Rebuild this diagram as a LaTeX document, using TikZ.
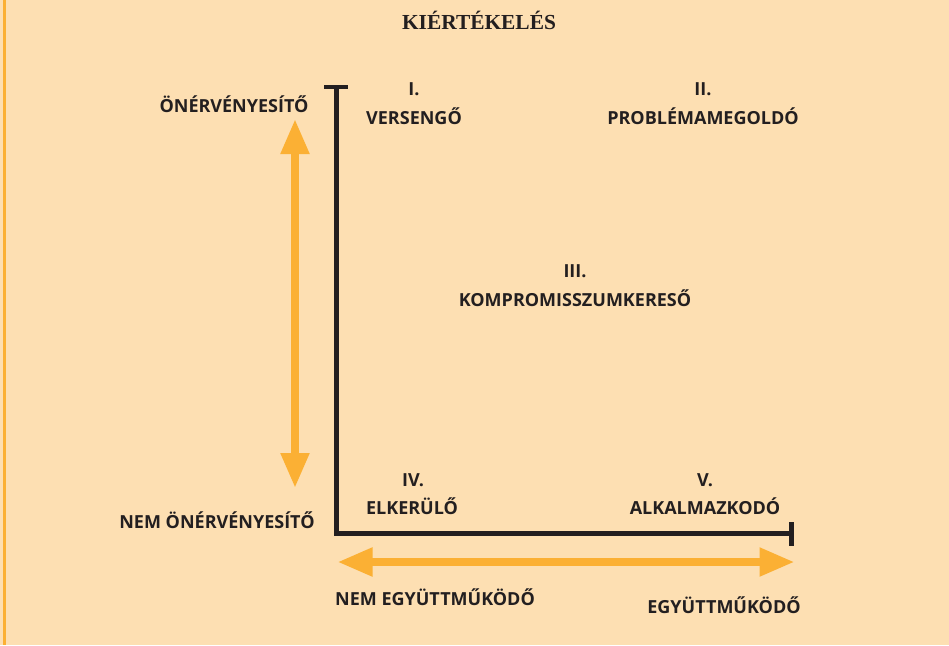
\documentclass[tikz,border=0pt]{standalone}
\usepackage{fontspec}
\setmainfont{Liberation Serif}
\newfontfamily\lblfont{Open Sans}
\usetikzlibrary{arrows.meta}
\definecolor{bg}{RGB}{253,223,178}
\definecolor{org}{RGB}{251,176,52}
\definecolor{ink}{RGB}{35,31,32}
\tikzset{
  lbl/.style={font=\lblfont\bfseries\fontsize{18}{20}\selectfont, text=ink, inner sep=0pt, anchor=center},
  ttl/.style={font=\bfseries\fontsize{21.4}{23}\selectfont, text=ink, inner sep=0pt},
  axis/.style={draw=ink, line width=5pt},
  oarrow/.style={draw=org, line width=8pt, {Triangle[length=35pt,width=27pt]}-{Triangle[length=35pt,width=27pt]}},
}
\begin{document}
\begin{tikzpicture}[x=1pt,y=-1pt]
\fill[bg] (0,0) rectangle (949,645);
\useasboundingbox (0,0) rectangle (949,645);
\fill[org] (3.3,0) rectangle (6.3,645);
% title
\node[ttl] (title) at (479,20) {KIÉRTÉKELÉS};
% axes
\coordinate (top) at (336.5,87);
\coordinate (corner) at (336.5,533.5);
\coordinate (right) at (791,533.5);
\draw[axis] (top) -- (corner) -- (right);
\draw[axis, line width=4.5pt] (324,87) -- (348,87);
\draw[axis] (791,522) -- (791,546);
% orange arrows
\coordinate (vt) at (295,119);
\coordinate (vb) at (295,488);
\draw[oarrow] (vt) -- (vb);
\coordinate (hl) at (337.5,562);
\coordinate (hr) at (794.5,562);
\draw[oarrow] (hl) -- (hr);
% labels
\node[lbl] (onerv) at (234,104) {ÖNÉRVÉNYESÍTŐ};
\node[lbl] (nemonerv) at (217,520) {NEM ÖNÉRVÉNYESÍTŐ};
\node[lbl] (q1n) at (414,89) {I.};
\node[lbl] (q1) at (414,116) {VERSENGŐ};
\node[lbl] (q2n) at (703,89) {II.};
\node[lbl] (q2) at (703,116) {PROBLÉMAMEGOLDÓ};
\node[lbl] (q3n) at (575,271) {III.};
\node[lbl] (q3) at (575,298) {KOMPROMISSZUMKERESŐ};
\node[lbl] (q4n) at (413,480) {IV.};
\node[lbl] (q4) at (412,506) {ELKERÜLŐ};
\node[lbl] (q5n) at (705,480) {V.};
\node[lbl] (q5) at (705,506) {ALKALMAZKODÓ};
\node[lbl] (nemegy) at (435,597) {NEM EGYÜTTMŰKÖDŐ};
\node[lbl] (egy) at (724,605) {EGYÜTTMŰKÖDŐ};
\end{tikzpicture}
\end{document}
